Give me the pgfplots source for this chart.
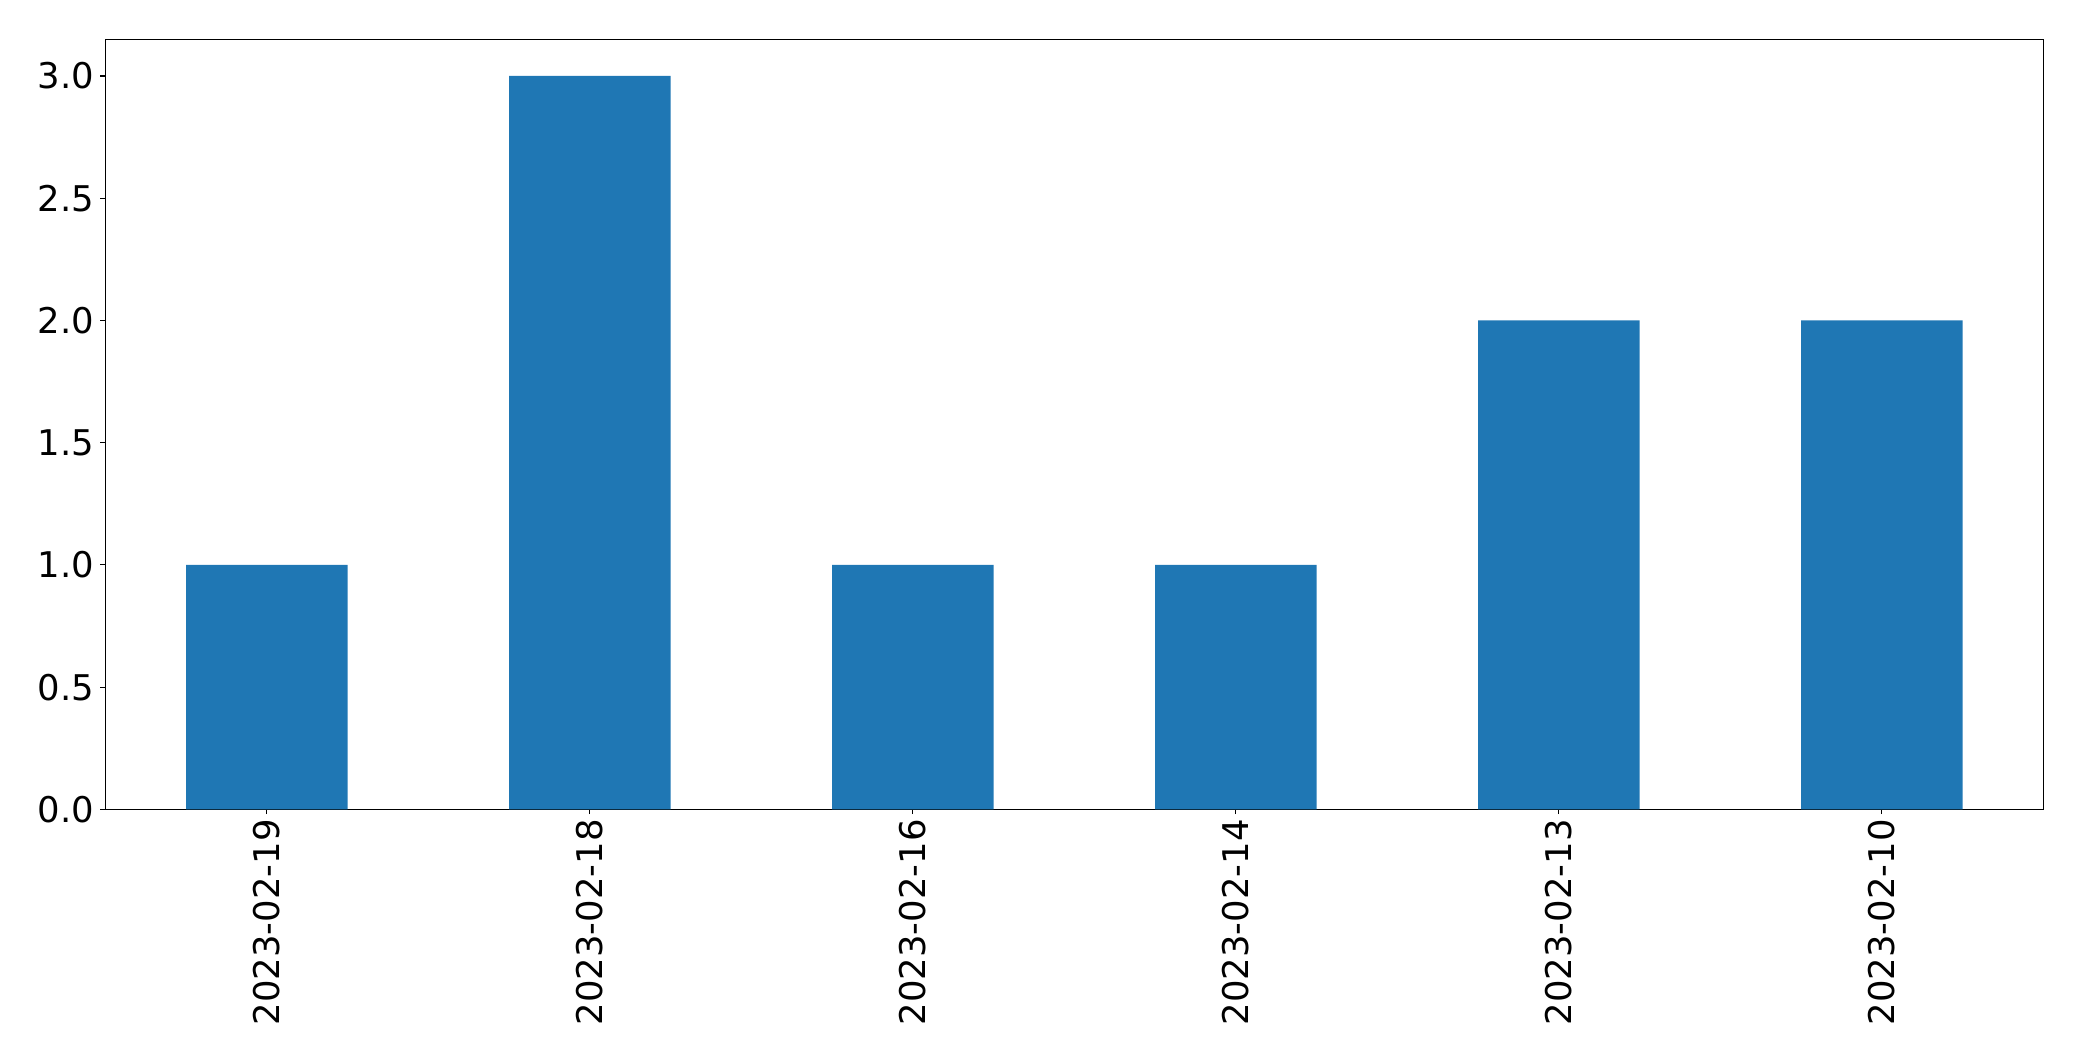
\documentclass[border=0pt]{standalone}
\usepackage{pgfplots}
\pgfplotsset{compat=1.18}
\usepackage{fontspec}
\setmainfont{DejaVu Sans}
\definecolor{mplblue}{HTML}{1F77B4}
\begin{document}
\begin{tikzpicture}
\useasboundingbox (0,0) rectangle (1499.04pt,763.92pt);
\begin{axis}[
  at={(75.8pt,181.2pt)}, anchor=south west,
  scale only axis, width=1395.4pt, height=554.4pt,
  xmin=-0.5, xmax=5.5, ymin=0, ymax=3.15,
  xtick={0,1,2,3,4,5},
  xticklabels={2023-02-19,2023-02-18,2023-02-16,2023-02-14,2023-02-13,2023-02-10},
  ytick={0,0.5,1,1.5,2,2.5,3},
  yticklabel style={/pgf/number format/.cd, fixed, fixed zerofill, precision=1},
  /pgf/number format/assume math mode=true,
  tick align=outside, xtick pos=bottom, ytick pos=left,
  major tick length=3.5pt,
  every tick/.style={black, line width=0.8pt},
  axis line style={line width=0.8pt},
  tick label style={font=\fontsize{25.5}{30.6}\selectfont, inner sep=0pt},
  xticklabel style={rotate=90, anchor=east},
  xticklabel shift=3.5pt, yticklabel shift=4.5pt,
  ybar, bar width=116.28pt, bar shift=0pt,
]
\addplot[fill=mplblue, draw=none] coordinates {(0,1) (1,3) (2,1) (3,1) (4,2) (5,2)};
\end{axis}
\end{tikzpicture}
\end{document}
